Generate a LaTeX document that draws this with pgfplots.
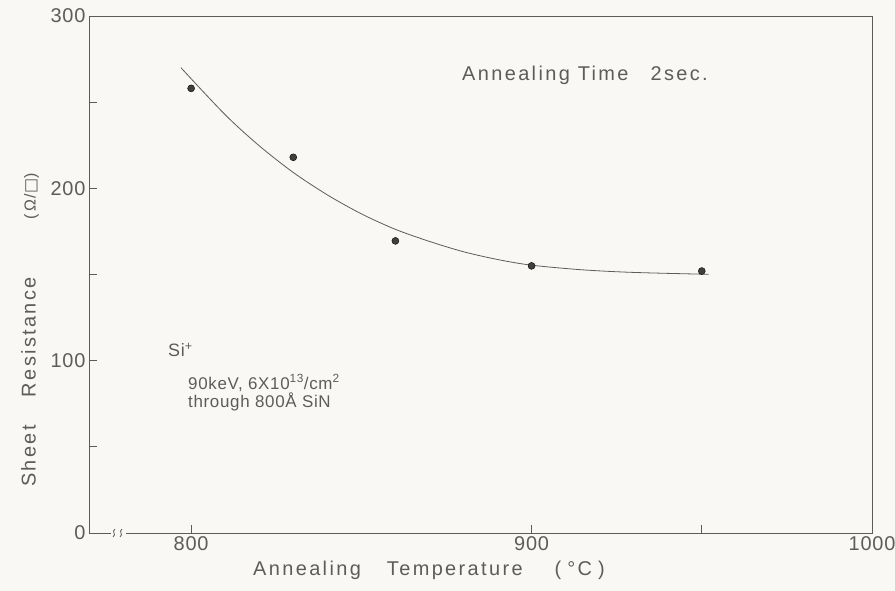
\documentclass[border=0pt]{standalone}
\usepackage{pgfplots}
\pgfplotsset{compat=1.18}
\usepackage{fontspec}
\setmainfont[LetterSpace=4]{Liberation Sans}
\newfontfamily\wide[LetterSpace=12]{Liberation Sans}
\newfontfamily\dejavu{DejaVu Sans}
\definecolor{bg}{HTML}{FAF8F4}
\definecolor{ink}{HTML}{5C5C5C}
\begin{document}
\begin{tikzpicture}[x=1bp,y=1bp]
\useasboundingbox (-89,-58) rectangle (806,533);
\fill[bg] (-89,-58) rectangle (806,533);
\begin{axis}[at={(0,0)}, anchor=south west, scale only axis,
  width=783bp, height=517bp,
  xmin=770, xmax=1000, ymin=0, ymax=300,
  xtick={800,900,1000}, minor xtick={950},
  ytick={0,100,200,300}, minor ytick={50,150,250},
  tick align=inside, xtick pos=bottom, ytick pos=left,
  major tick length=8bp, minor tick length=8bp,
  axis line style={ink, line width=0.8bp},
  every tick/.style={ink, line width=0.8bp},
  every minor tick/.style={ink, line width=0.8bp},
  ticklabel style={font=\fontsize{20}{20}\selectfont, text=ink},
  /pgf/number format/assume math mode=true,
  /pgf/number format/1000 sep={},
  clip=false]
\addplot[ink, line width=0.8bp, smooth, no marks] coordinates {
 (797,270) (810,242.7) (820,224.7) (830,209.2) (840,196.2) (850,185.2)
 (860,176.2) (870,169.2) (880,163.2) (890,158.7) (900,155.4) (915,152.7)
 (930,151.2) (952,150.1)};
\addplot[only marks, mark=*, mark size=3.5bp, mark options={fill=ink!70!black, draw=none}] coordinates {
 (800,258) (830,218) (860,169.5) (900,155) (950,152)};
\end{axis}
% texts (axis box has its lower left corner at the origin, 1 unit = 1bp)
\node[anchor=west, inner sep=0pt, text=ink, font=\wide\fontsize{20}{20}\selectfont] at (373,458) {Annealing Time\hspace{22bp}2sec.};
\node[anchor=west, inner sep=0pt, text=ink, font=\fontsize{18}{18}\selectfont] at (79,183) {Si\textsuperscript{+}};
\node[anchor=west, inner sep=0pt, text=ink, font=\fontsize{17}{17}\selectfont] at (99,150) {90keV, 6X10\textsuperscript{13}/cm\textsuperscript{2}};
\node[anchor=west, inner sep=0pt, text=ink, font=\fontsize{17}{17}\selectfont] at (99,131) {through 800Å SiN};
\node[anchor=west, inner sep=0pt, text=ink, font=\wide\fontsize{20}{20}\selectfont] at (164,-37) {Annealing\hspace{26bp}Temperature\hspace{32bp}(\hspace{6bp}°C\hspace{6bp})};
\node[anchor=west, inner sep=0pt, rotate=90, text=ink, font=\wide\fontsize{20}{20}\selectfont] at (-59,46) {Sheet\hspace{28bp}Resistance\hspace{58bp}{\fontsize{16}{16}\selectfont(Ω/{\dejavu □})}};
% axis break
\fill[bg] (22,-3) rectangle (37,3);
\draw[ink, line width=0.8bp] (24,-4) .. controls (28,-1) and (22,1) .. (26,4);
\draw[ink, line width=0.8bp] (31,-4) .. controls (35,-1) and (29,1) .. (33,4);
\end{tikzpicture}
\end{document}
